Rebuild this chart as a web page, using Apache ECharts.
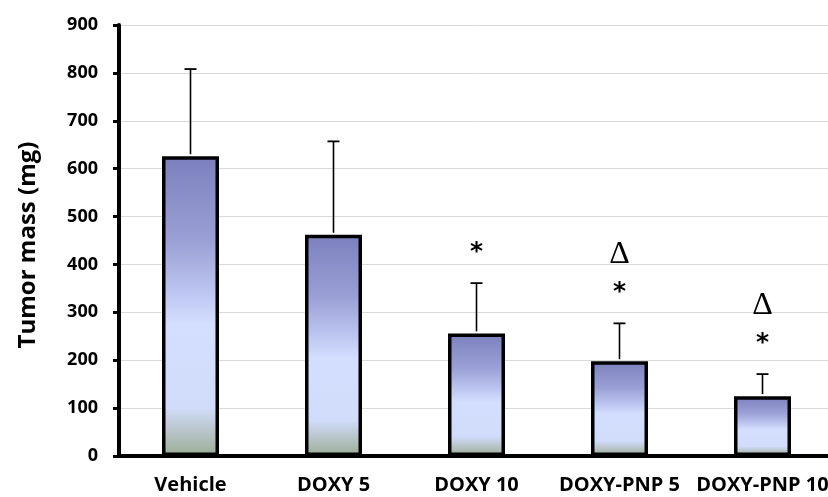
<!DOCTYPE html>
<html>
<head>
<meta charset="utf-8">
<script src="https://cdn.jsdelivr.net/npm/echarts@6/dist/echarts.min.js"></script>
<style>
  html, body { margin: 0; padding: 0; background: #fff; overflow: hidden; }
  /* plot area runs slightly past the right edge of the window */
  #chart { width: 836px; height: 497px; }
</style>
</head>
<body>
<div id="chart"></div>
<script>
// Tumor mass per treatment group (mean + SD, mg)
const categories = ['Vehicle', 'DOXY 5', 'DOXY 10', 'DOXY-PNP 5', 'DOXY-PNP 10'];
const meanMass = [626, 462, 256, 198, 125];
const sdMass = [182, 195, 105, 79, 46];
// significance marks: * vs vehicle, Δ vs free DOXY
const starMark = [false, false, true, true, true];
const deltaMark = [false, false, false, true, true];
const yTicks = [0, 100, 200, 300, 400, 500, 600, 700, 800, 900];

const FONT = '"Open Sans", "Liberation Sans", sans-serif';

const barGradient = new echarts.graphic.LinearGradient(0, 0, 0, 1, [
  { offset: 0, color: '#7b80bd' },
  { offset: 0.28, color: '#9aa0d5' },
  { offset: 0.45, color: '#bcc5f0' },
  { offset: 0.56, color: '#d4dfff' },
  { offset: 0.84, color: '#d0dcfa' },
  { offset: 0.92, color: '#b8c4c8' },
  { offset: 1, color: '#9aae96' }
]);

const chart = echarts.init(document.getElementById('chart'), null, { renderer: 'canvas' });

chart.setOption({
  animation: false,
  backgroundColor: '#ffffff',
  grid: { left: 119, right: 2, top: 25, bottom: 41, containLabel: false },
  xAxis: {
    type: 'category',
    data: categories,
    axisLine: { show: true, onZero: false, lineStyle: { color: '#000', width: 4 } },
    axisTick: { show: false },
    axisLabel: {
      interval: 0, margin: 19, color: '#000',
      fontFamily: FONT, fontWeight: 'bold', fontSize: 20
    },
    splitLine: { show: false }
  },
  yAxis: {
    type: 'value',
    min: yTicks[0],
    max: yTicks[yTicks.length - 1],
    interval: yTicks[1] - yTicks[0],
    axisLine: { show: true, lineStyle: { color: '#000', width: 4 } },
    axisTick: { show: true, length: 6, lineStyle: { color: '#000', width: 3 } },
    axisLabel: {
      margin: 21, color: '#000',
      fontFamily: FONT, fontWeight: 'bold', fontSize: 18
    },
    splitLine: { show: true, lineStyle: { color: '#d9d9d9', width: 1 } }
  },
  graphic: [{
    type: 'text',
    x: 28, y: 245,
    rotation: Math.PI / 2,
    style: {
      text: 'Tumor mass (mg)',
      fill: '#000',
      font: 'bold 24px ' + FONT,
      align: 'center',
      verticalAlign: 'middle'
    }
  }],
  series: [
    {
      type: 'bar',
      data: meanMass,
      barWidth: 57,
      z: 2,
      itemStyle: { color: barGradient, borderColor: '#000', borderWidth: 3.5 }
    },
    {
      // upper SD whiskers
      type: 'custom',
      z: 3,
      data: categories.map((c, i) => [i, meanMass[i], meanMass[i] + sdMass[i]]),
      renderItem: function (params, api) {
        const base = api.coord([api.value(0), api.value(1)]);
        const top = api.coord([api.value(0), api.value(2)]);
        const half = 6;
        return {
          type: 'group',
          children: [
            { type: 'line', shape: { x1: base[0], y1: base[1] - 2, x2: top[0], y2: top[1] },
              style: { stroke: '#000', lineWidth: 1.6 } },
            { type: 'line', shape: { x1: top[0] - half, y1: top[1], x2: top[0] + half, y2: top[1] },
              style: { stroke: '#000', lineWidth: 1.8 } }
          ]
        };
      }
    },
    {
      // significance symbols above the whiskers
      type: 'custom',
      z: 4,
      data: categories.map((c, i) => [i, meanMass[i] + sdMass[i], starMark[i] ? 1 : 0, deltaMark[i] ? 1 : 0]),
      renderItem: function (params, api) {
        const top = api.coord([api.value(0), api.value(1)]);
        const children = [];
        if (api.value(2)) {
          children.push({ type: 'text', x: top[0], y: top[1] - 31,
            style: { text: '*', fill: '#000', font: 'bold 25px "DejaVu Sans", sans-serif',
              align: 'center', verticalAlign: 'middle' } });
        }
        if (api.value(3)) {
          children.push({ type: 'text', x: top[0], y: top[1] - 69,
            style: { text: 'Δ', fill: '#000', font: '32px "Liberation Serif", serif',
              align: 'center', verticalAlign: 'middle' } });
        }
        return { type: 'group', children: children };
      }
    }
  ]
});
</script>
</body>
</html>
